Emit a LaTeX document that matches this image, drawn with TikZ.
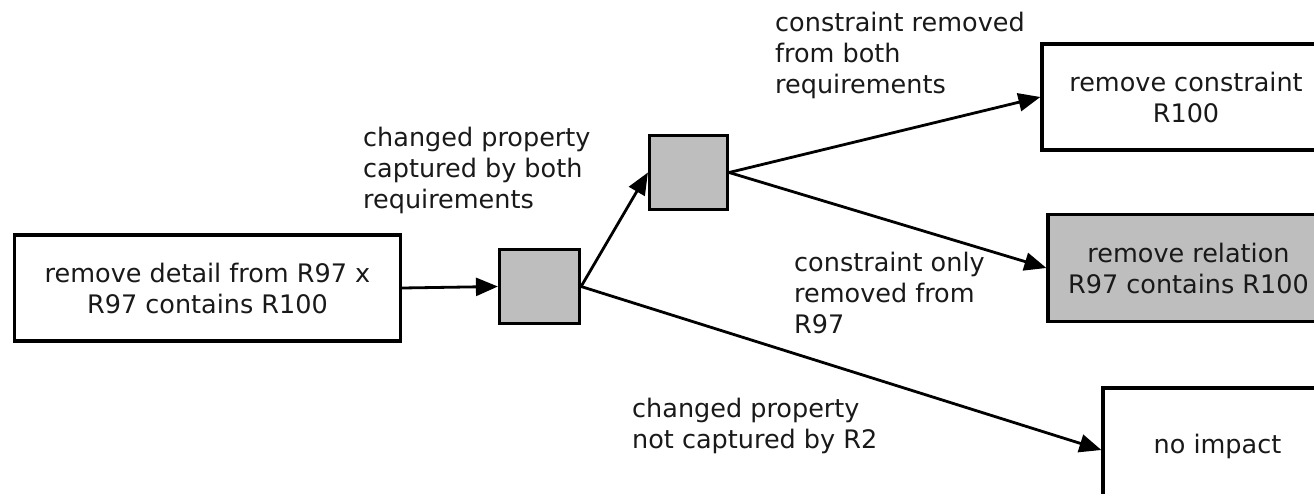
\documentclass[tikz,border=0pt]{standalone}
\usepackage{fontspec}
\setmainfont{DejaVu Sans}
\usetikzlibrary{arrows.meta}
\definecolor{boxgray}{RGB}{190,190,190}
\definecolor{inkcol}{RGB}{25,25,25}
\begin{document}
\begin{tikzpicture}[x=1pt,y=-1pt,
  every node/.style={font=\fontsize{25.5}{31}\selectfont, text=inkcol},
  stepbox/.style={draw=black, line width=3.2pt, inner sep=0pt, align=center},
  decision/.style={draw=black, line width=3.2pt, fill=boxgray, inner sep=0pt},
  edgelabel/.style={anchor=north west, inner sep=0pt, align=left},
  flow/.style={draw=black, line width=2.8pt, -{Triangle[length=22pt,width=18pt]}}
]
\useasboundingbox (0,0) rectangle (1314,493);
\clip (0,0) rectangle (1314,493);

% action boxes
\node[stepbox, minimum width=386pt, minimum height=106pt] (src) at (207.5,288)
  {remove detail from R97 x\\R97 contains R100};
\node[stepbox, minimum width=288pt, minimum height=106pt] (rc) at (1186,97)
  {remove constraint\\R100};
\node[stepbox, fill=boxgray, minimum width=281pt, minimum height=107pt] (rr) at (1188.5,268)
  {remove relation\\R97 contains R100};
\node[stepbox, minimum width=229pt, minimum height=116pt, text depth=0pt] (ni) at (1217.5,446)
  {\raisebox{4pt}{no impact}};

% decision points
\node[decision, minimum width=80pt, minimum height=74pt] (d1) at (539.5,286.5) {};
\node[decision, minimum width=78pt, minimum height=74pt] (d2) at (688.5,172.5) {};

% connectors
\draw[flow] (src.east) -- (d1.west);
\draw[flow] (d1.east) -- (d2.west);
\draw[flow] (d1.east) -- ([yshift=-4pt]ni.west);
\draw[flow] (d2.east) -- (rc.west);
\draw[flow] (d2.east) -- (rr.west);

% branch conditions
\node[edgelabel] (l1) at (363,127) {changed property\\captured by both\\requirements};
\node[edgelabel] (l2) at (775,12) {constraint removed\\from both\\requirements};
\node[edgelabel] (l3) at (794,252) {constraint only\\removed from\\R97};
\node[edgelabel] (l4) at (632,398) {changed property\\not captured by R2};
\end{tikzpicture}
\end{document}
